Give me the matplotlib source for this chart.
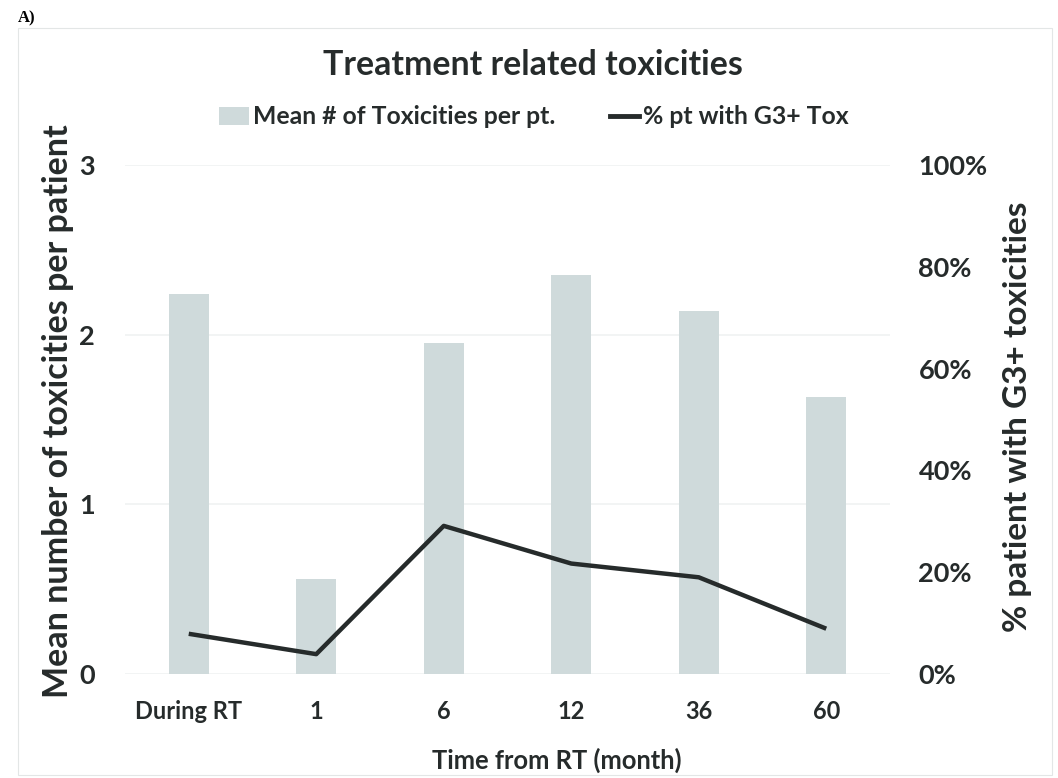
import matplotlib.pyplot as plt
from matplotlib.patches import Rectangle, Patch
from matplotlib.lines import Line2D
from matplotlib.ticker import PercentFormatter

categories = ['During RT', '1', '6', '12', '36', '60']
mean_tox = [2.24, 0.56, 1.95, 2.35, 2.14, 1.63]
pct_g3 = [7.9, 3.9, 29.1, 21.7, 19.0, 8.9]

bar_color = '#CFDADB'
line_color = '#262B2B'
text_color = '#262B2B'

plt.rcParams['font.family'] = ['Lato', 'DejaVu Sans']
plt.rcParams['font.weight'] = 'bold'
plt.rcParams['text.color'] = text_color

W, H = 1058, 778
fig = plt.figure(figsize=(W / 100, H / 100), dpi=100)
ax = fig.add_axes([125 / W, 1 - 674 / H, 765 / W, 509 / H])
ax2 = ax.twinx()

x = list(range(len(categories)))
ax.bar(x, mean_tox, width=0.31, color=bar_color, zorder=2)
ax2.plot(x, [v / 100 for v in pct_g3], color=line_color, linewidth=3.2,
         solid_capstyle='butt', zorder=3)

ax.set_xlim(-0.5, len(categories) - 0.5)
ax.set_ylim(0, 3)
ax.set_yticks([0, 1, 2, 3])
ax2.set_ylim(0, 1)
ax2.set_yticks([0, 0.2, 0.4, 0.6, 0.8, 1.0])
ax2.yaxis.set_major_formatter(PercentFormatter(1.0, decimals=0))

ax.set_xticks(x)
ax.set_xticklabels(categories)
ax.grid(axis='y', color='#F0F2F2', linewidth=1.2, zorder=0)
ax.set_axisbelow(True)

for a in (ax, ax2):
    for s in a.spines.values():
        s.set_visible(False)
    a.tick_params(length=0, colors=text_color)

ax.tick_params(axis='y', labelsize=19.5, pad=21.5)
ax2.tick_params(axis='y', labelsize=19.5, pad=20.5)
ax.tick_params(axis='x', labelsize=17, pad=19)

# axis titles placed like the reference (Excel had them nudged)
fig.text(58 / W, 1 - 411 / H, 'Mean number of toxicities per patient',
         rotation=90, ha='center', va='center', fontsize=24.5, fontweight='bold')
fig.text(1017 / W, 1 - 417 / H, '% patient with G3+ toxicities',
         rotation=90, ha='center', va='center', fontsize=24, fontweight='bold')
fig.text(557 / W, 1 - 760 / H, 'Time from RT (month)', ha='center',
         va='center', fontsize=18.4, fontweight='bold')

fig.text(533 / W, 1 - 65 / H, 'Treatment related toxicities', ha='center',
         va='center', fontsize=24.4, fontweight='bold')

handles = [Patch(facecolor=bar_color, edgecolor='none'),
           Line2D([0], [0], color=line_color, linewidth=3.5)]
fig.legend(handles, ['Mean # of Toxicities per pt.', '% pt with G3+ Tox'],
           loc='center', bbox_to_anchor=(534 / W, 1 - 117 / H), ncol=2,
           frameon=False, fontsize=17.8, handlelength=1.2, handletextpad=0.16,
           columnspacing=2.2, borderpad=0)

fig.add_artist(Rectangle((18 / W, 1 - 775 / H), 1034 / W, 747 / H,
                         transform=fig.transFigure, fill=False,
                         edgecolor='#E3E6E6', linewidth=0.8))
fig.text(18 / W, 1 - 18 / H, 'A)', ha='left', va='center', fontsize=12,
         fontweight='bold', family='Liberation Serif', color='black')

fig.savefig('out.png', dpi=100, facecolor='white')
